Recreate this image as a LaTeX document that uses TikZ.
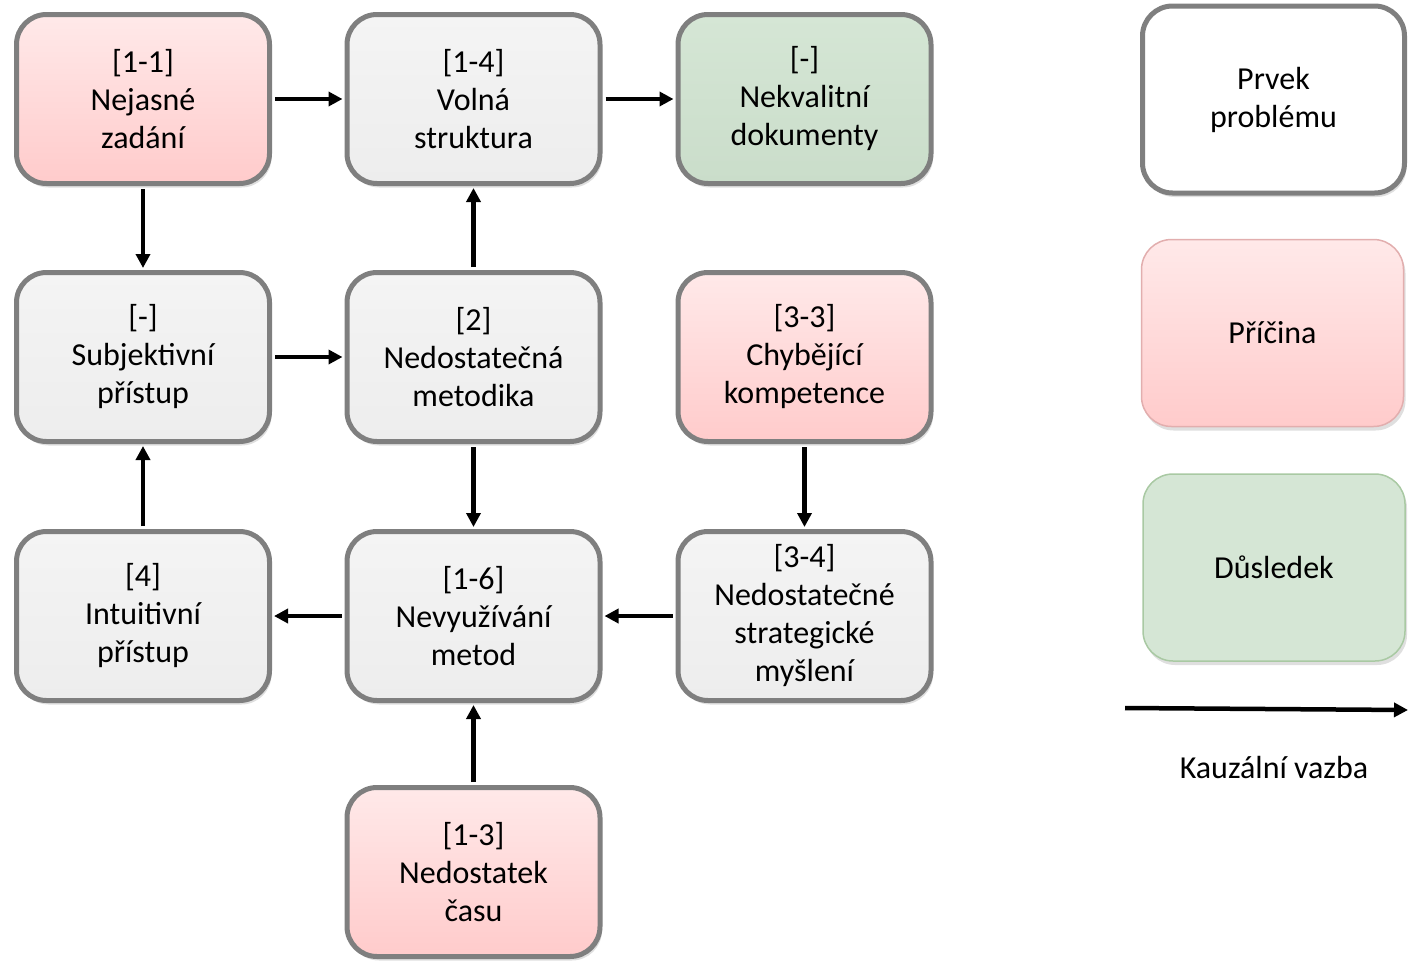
\documentclass[tikz,border=0pt]{standalone}
\usepackage{fontspec}
\setmainfont{Carlito}
\usetikzlibrary{arrows.meta,shadows}
\definecolor{boxline}{HTML}{7F7F7F}
\definecolor{grayTop}{HTML}{F4F4F4}
\definecolor{grayBot}{HTML}{EDEDED}
\definecolor{pinkTop}{HTML}{FFE9E9}
\definecolor{pinkBot}{HTML}{FFCBCB}
\definecolor{greenTop}{HTML}{D5E6D5}
\definecolor{greenBot}{HTML}{CADDCA}
\definecolor{pinkLine}{HTML}{E2AEAE}
\definecolor{greenLine}{HTML}{A9C9A3}
\tikzset{
  x=1pt, y=-1pt,
  label font/.style={font=\fontsize{32}{38}\selectfont},
  problem/.style={draw=boxline, line width=5pt, rounded corners=30pt,
    minimum width=253pt, minimum height=169pt, align=center, label font,
    drop shadow={opacity=0.25, shadow xshift=2pt, shadow yshift=-4pt}},
  neutral/.style={problem, top color=grayTop, bottom color=grayBot},
  cause/.style={problem, top color=pinkTop, bottom color=pinkBot},
  effect/.style={problem, top color=greenTop, bottom color=greenBot},
  legendbox/.style={rounded corners=30pt, minimum width=262pt,
    minimum height=187pt, align=center, label font,
    drop shadow={opacity=0.25, shadow xshift=2pt, shadow yshift=-4pt}},
  link/.style={line width=4.5pt, -{Triangle[length=14pt,width=14pt]},
    shorten <=3pt, shorten >=2pt}
}
\begin{document}
\begin{tikzpicture}
\useasboundingbox (0,0) rectangle (1408,961);

% problem elements
\node[cause]   (n11) at (143,99)   {[1-1]\\Nejasné\\zadání};
\node[neutral] (n14) at (473.5,99) {[1-4]\\Volná\\struktura};
\node[effect]  (nek) at (804.5,99) {[-]\\Nekvalitní\\dokumenty};
\node[neutral] (sub) at (143,357)  {[-]\\Subjektivní\\přístup};
\node[neutral] (n2)  at (473.5,357) {[2]\\Nedostatečná\\metodika};
\node[cause]   (n33) at (804.5,357) {[3-3]\\Chybějící\\kompetence};
\node[neutral] (n4)  at (143,616)  {[4]\\Intuitivní\\přístup};
\node[neutral] (n16) at (473.5,616) {[1-6]\\Nevyužívání\\metod};
\node[neutral] (n34) at (804.5,616) {[3-4]\\Nedostatečné\\strategické\\myšlení};
\node[cause]   (n13) at (473.5,872) {[1-3]\\Nedostatek\\času};

% causal links
\draw[link] (n11) -- (n14);
\draw[link] (n14) -- (nek);
\draw[link] (n11) -- (sub);
\draw[link] (n2)  -- (n14);
\draw[link] (sub) -- (n2);
\draw[link] (n33) -- (n34);
\draw[link] (n2)  -- (n16);
\draw[link] (n34) -- (n16);
\draw[link] (n16) -- (n4);
\draw[link] (n4)  -- (sub);
\draw[link] (n13) -- (n16);

% legend
\node[legendbox, draw=boxline, line width=5pt, fill=white] (lgA) at (1273.5,99.5) {Prvek\\problému};
\node[legendbox, draw=pinkLine, line width=1.5pt, top color=pinkTop, bottom color=pinkBot] (lgB) at (1272.5,333) {Příčina};
\node[legendbox, draw=greenLine, line width=1.5pt, fill=greenTop] (lgC) at (1274,567.5) {Důsledek};

\coordinate (la) at (1125,708);
\coordinate (lb) at (1408,710);
\draw[line width=4.5pt, -{Triangle[length=14pt,width=14pt]}] (la) -- (lb);
\node[label font] (lgD) at (1274,767) {Kauzální vazba};
\end{tikzpicture}
\end{document}
